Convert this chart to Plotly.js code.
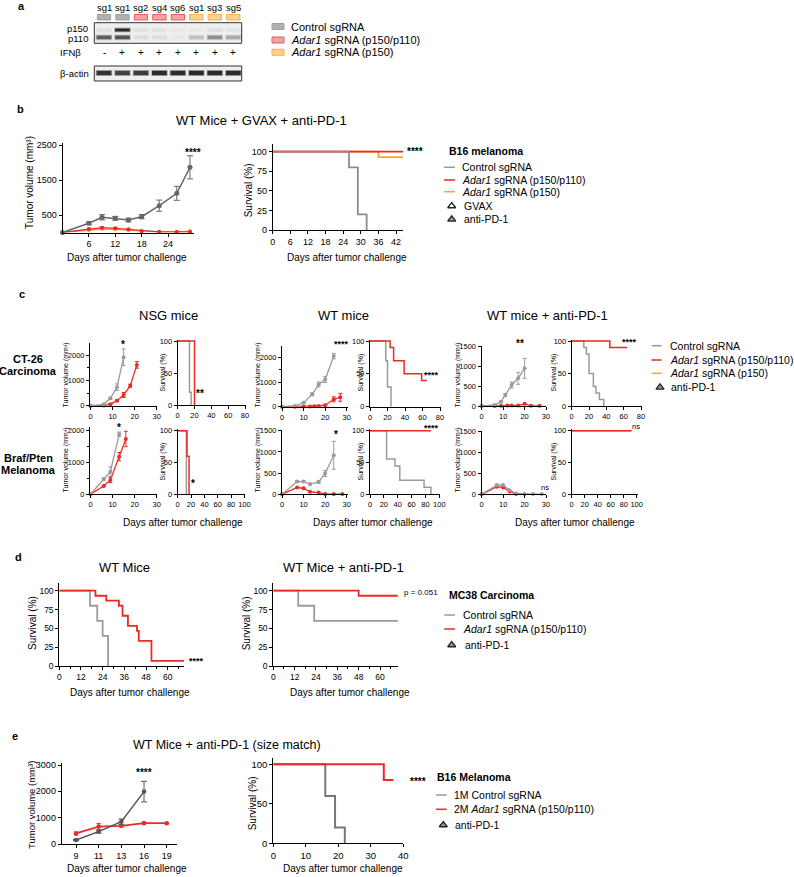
<!DOCTYPE html>
<html><head><meta charset="utf-8">
<script src="https://cdn.plot.ly/plotly-3.0.1.min.js"></script>
<style>html,body{margin:0;padding:0;background:#fff}#chart{width:794px;height:877px}</style>
</head><body><div id="chart"></div>
<script>
// ================= DATA =================
// panel a (western blot, relative band intensities)
const laneLabels = ['sg1','sg1','sg2','sg4','sg6','sg1','sg3','sg5'];
const laneGroup  = [0,0,1,1,1,2,2,2];
const ifnbSigns  = ['-','+','+','+','+','+','+','+'];
const p150Band   = [0.06,0.95,0.05,0.05,0.03,0.03,0.06,0.04];
const p110Band   = [0.65,0.7,0.07,0.07,0.03,0.18,0.4,0.28];
const actinBand  = [0.9,0.8,0.85,0.95,0.95,0.95,0.95,0.95];
const groupNames = ['Control sgRNA','<i>Adar1</i> sgRNA (p150/p110)','<i>Adar1</i> sgRNA (p150)'];

// panel b
const bDays      = [0,6,9,12,15,18,22,26,29];
const bCtrl      = [0,263,434,405,357,452,766,1120,1862];
const bCtrlErr   = [0,40,75,55,55,60,160,200,330];
const bDual      = [0,100,137,120,90,40,20,15,15];
const bDualErr   = [0,20,25,25,20,15,10,10,10];
const bP150      = [0,70,100,90,70,30,20,20,40];
const bGvaxDays  = [1,4];
const bPd1Days   = [6,9,12];
const bSurvCtrlT = [0,26,29,32],   bSurvCtrlS = [100,80,20,0];
const bSurvDualT = [0,45],         bSurvDualS = [100,100];
const bSurvP150T = [0,36,45],      bSurvP150S = [100,93,93];

// panel c — NSG
const cNctCtrlD = [0,6,9,12,15],        cNctCtrl = [0,55,290,730,1910],   cNctCtrlE = [0,15,40,130,330];
const cNctDualD = [0,6,9,12,15,18,21],  cNctDual = [0,5,60,200,423,790,1610], cNctDualE = [0,5,20,40,100,60,130];
const cNctSCtrlT = [0,14,16], cNctSCtrlS = [100,20,0];
const cNctSDualT = [0,20],    cNctSDualS = [100,0];
const cNbpCtrlD = [0,6,9,13],           cNbpCtrl = [0,476,703,1866],      cNbpCtrlE = [0,30,150,70];
const cNbpDualD = [0,6,9,13,16],        cNbpDual = [0,258,445,1170,1720], cNbpDualE = [0,20,80,130,240];
const cNbpSCtrlT = [0,13],    cNbpSCtrlS = [100,0];
const cNbpSDualT = [0,14,17], cNbpSDualS = [100,60,0];
// panel c — WT
const cWctCtrlD = [0,6,10,14,17,20,24],      cWctCtrl = [0,30,160,500,900,1100,2050], cWctCtrlE = [0,10,30,60,100,120,110];
const cWctDualD = [0,6,10,13,15,17,20,24,27],cWctDual = [0,0,5,10,15,30,60,300,380],  cWctDualE = [0,0,0,5,5,10,20,100,160];
const cWctSCtrlT = [0,18,20,24],          cWctSCtrlS = [100,70,30,0];
const cWctSDualT = [0,23,27,39,59,65],    cWctSDualS = [100,90,70,50,40,40];
const cWbpCtrlD = [0,7,10,13,17,20,24],      cWbpCtrl = [0,300,300,240,290,490,920], cWbpCtrlE = [0,20,20,20,30,70,330];
const cWbpDualD = [0,7,10,13,17,20,24,28],   cWbpDual = [0,160,140,60,40,10,5,5];
const cWbpSCtrlT = [0,24,36,43,78,88],    cWbpSCtrlS = [100,55.6,44.4,22.2,11.1,0];
const cWbpSDualT = [0,88],                cWbpSDualS = [100,100];
// panel c — WT + anti-PD-1
const cActCtrlD = [0,6,9,11,14,17,20],       cActCtrl = [0,25,108,275,525,692,942], cActCtrlE = [0,10,20,40,75,150,250];
const cActDualD = [0,6,9,12,14,17,20,23,27], cActDual = [0,2,5,10,10,15,55,5,5];
const cActPd1 = [6,9,12];
const cActSCtrlT = [0,14,17,20,25,28,32,37], cActSCtrlS = [100,90,80,50,30,20,10,0];
const cActSDualT = [0,44,64],                cActSDualS = [100,90,90];
const cAbpCtrlD = [0,7,10,13,16,20,24,28],   cAbpCtrl = [0,220,225,100,20,5,5,5];
const cAbpDualD = [0,7,10,13,16],            cAbpDual = [0,180,165,70,10];
const cAbpPd1 = [7,10,13];
const cAbpSCtrlT = [0,92], cAbpSCtrlS = [100,100];
const cAbpSDualT = [0,92], cAbpSDualS = [100,100];

// panel d
const dWtCtrlT = [0,17,21,24,27],                 dWtCtrlS = [100,80,60,40,0];
const dWtDualT = [0,20,26,33,35,38,43,44,51,69],  dWtDualS = [100,93.3,86.7,80,66.7,53.3,46.7,33.3,6.7,6.7];
const dPdCtrlT = [0,14,23,70],                    dPdCtrlS = [100,80,60,60];
const dPdDualT = [0,48,70],                       dPdDualS = [100,93.3,93.3];
const dPd1Days = [9];

// panel e
const eDays     = [9,11,13,16,19];
const eCtrl     = [150,470,850,1990];
const eCtrlErr  = [20,60,100,390];
const eDual     = [400,660,690,790,790];
const eDualErr  = [60,120,50,50,30];
const ePd1Idx   = [0,1.5];
const eSurvCtrlT = [0,16,19,22], eSurvCtrlS = [100,60,20,0];
const eSurvDualT = [0,34,37],    eSurvDualS = [100,80,80];
const ePd1Days  = [8,13];

// ================= BUILD =================
const W = 794, H = 877;
const FONT = 'Liberation Sans, Arial, Helvetica, sans-serif';
const GRAY = '#9b9b9b', DGRAY = '#666666', RED = '#ec2a24', ORANGE = '#f6a33a';
const traces = [], ann = [], shapes = [];
const layout = {width:W, height:H, margin:{l:0,r:0,t:0,b:0}, paper_bgcolor:'#fff',
  plot_bgcolor:'rgba(0,0,0,0)', showlegend:false, font:{family:FONT, color:'#000'},
  annotations:ann, shapes:shapes, hovermode:false};

function frame(p){
  const [[xv0,xp0],[xv1,xp1]] = p.xcal, sx = (xv1-xv0)/(xp1-xp0);
  const [[yv0,yp0],[yv1,yp1]] = p.ycal, sy = (yv1-yv0)/(yp1-yp0);
  p.xr = [xv0+(p.x[0]-xp0)*sx, xv0+(p.x[1]-xp0)*sx];
  p.yr = [yv0+(p.y[1]-yp0)*sy, yv0+(p.y[0]-yp0)*sy];
  p.yAt = py => yv0+(py-yp0)*sy;
  p.xPx = v => xp0+(v-xv0)/sx;
  return {xd:[p.x[0]/W, p.x[1]/W], yd:[1-p.y[1]/H, 1-p.y[0]/H]};
}
function axStyle(fs){ return {showgrid:false, zeroline:false, showline:true, linecolor:'#000', linewidth:1,
  ticks:'outside', ticklen:3, tickwidth:1, tickcolor:'#000', tickfont:{size:fs||8, family:FONT, color:'#000'},
  fixedrange:true, tickmode:'array'}; }
let nid = 1;
function setup(p, xo, yo, fs){
  const f = frame(p); const n = nid===1 ? '' : String(nid); nid++;
  p.xa = 'x'+n; p.ya = 'y'+n;
  layout['xaxis'+n] = Object.assign(axStyle(fs), {domain:f.xd, range:p.xr, anchor:p.ya}, xo);
  layout['yaxis'+n] = Object.assign(axStyle(fs), {domain:f.yd, range:p.yr, anchor:p.xa}, yo);
  return p;
}
function tumor(p, xs, ys, err, color, o){
  o = o||{};
  traces.push({type:'scatter', mode:'lines+markers', x:xs, y:ys, xaxis:p.xa, yaxis:p.ya, cliponaxis:false,
    line:{color:color, width:o.lw||1.3}, marker:{color:color, size:o.ms||4},
    error_y: err ? {type:'data', array:err, visible:true, color:color, thickness:1, width:o.cap||2} : {visible:false}});
}
function surv(p, ts, ss, color, w){
  traces.push({type:'scatter', mode:'lines', x:ts, y:ss, xaxis:p.xa, yaxis:p.ya,
    line:{color:color, width:w||1.5, shape:'hv'}});
}
function tri(p, xs, py, fill, size){
  traces.push({type:'scatter', mode:'markers', x:xs, y:xs.map(()=>p.yAt(py)), xaxis:p.xa, yaxis:p.ya, cliponaxis:false,
    marker:{symbol:'triangle-up', size:size||7, color:fill, line:{color:'#222', width:1.3}}});
}
function T(text, px, py, o){
  o = o||{};
  ann.push({text:text, x:px/W, y:1-py/H, xref:'paper', yref:'paper', showarrow:false,
    xanchor:o.xa||'center', yanchor:'middle', textangle:o.rot||0,
    font:{family:FONT, size:o.size||10, color:o.color||'#000', weight:o.bold?'bold':'normal'}});
}
function hline(x0,x1,y,color,w){ shapes.push({type:'line', xref:'paper', yref:'paper', x0:x0/W, x1:x1/W, y0:1-y/H, y1:1-y/H, line:{color:color, width:w||1.5}}); }
function rectPx(x0,y0,x1,y1,fill,lc,lw){ shapes.push({type:'rect', xref:'paper', yref:'paper', x0:x0/W, x1:x1/W, y0:1-y1/H, y1:1-y0/H, fillcolor:fill, line:{color:lc||fill, width:lw||0}}); }

// ---------- panel a ----------
const blotTop = setup({x:[94.3,241.7], y:[22.7,43.3], xcal:[[0,104],[7,233.3]], ycal:[[0,43.3],[1,22.7]]}, {visible:false}, {visible:false});
const blotAct = setup({x:[94.3,241.7], y:[66,81],     xcal:[[0,104],[7,233.3]], ycal:[[0,81],[1,66]]},      {visible:false}, {visible:false});
rectPx(94.3,22.7,241.7,43.3,'#efefef','#333',1);
rectPx(94.3,66,241.7,81,'#efefef','#333',1);
const grpFill = ['#b0b0b0','#f4a3a3','#fdd290'], grpLine = ['#a0a0a0','#ea5a5a','#f6b04e'];
laneLabels.forEach((lab,i)=>{
  const lx = blotTop.xPx(i);
  T(lab, lx, 7, {size:9.5});
  T(ifnbSigns[i], lx, 52.5, {size:10});
  shapes.push({type:'rect', xref:blotTop.xa, yref:'paper', x0:i-0.36, x1:i+0.36, y0:1-20/H, y1:1-14.5/H,
    fillcolor:grpFill[laneGroup[i]], line:{color:grpLine[laneGroup[i]], width:1}});
  const band = (p, a, y0, y1) => {
    shapes.push({type:'rect', xref:p.xa, yref:p.ya, x0:i-0.45, x1:i+0.45, y0:y0-0.05, y1:y1+0.05, fillcolor:'rgba(30,30,30,'+(a*0.3)+')', line:{width:0}});
    shapes.push({type:'rect', xref:p.xa, yref:p.ya, x0:i-0.4, x1:i+0.4, y0:y0, y1:y1, fillcolor:'rgba(20,20,20,'+(a*0.9)+')', line:{width:0}});
  };
  band(blotTop, p150Band[i], 0.57, 0.72);
  band(blotTop, p110Band[i], 0.2, 0.38);
  band(blotAct, actinBand[i], 0.38, 0.68);
});
T('p150', 90, 28.3, {xa:'right', size:9.5});
T('p110', 90, 38.5, {xa:'right', size:9.5});
T('IFNβ', 83, 52.5, {xa:'right', size:9.5});
T('β-actin', 91, 73, {xa:'right', size:9.5});
[26.5, 40, 52.3].forEach((y,k)=>{
  rectPx(272,y-3,284,y+3,grpFill[k],grpLine[k],1);
  T(groupNames[k], 289, y, {xa:'left', size:11});
});

// ---------- panel b ----------
const b1 = setup({x:[62.5,194], y:[143,232.5], xcal:[[0,62.5],[24,168]], ycal:[[0,232.5],[2500,145]]},
  {tickvals:[6,12,18,24]}, {tickvals:[500,1500,2500]}, 9);
tumor(b1, bDays, bP150, null, ORANGE, {ms:4});
tumor(b1, bDays, bDual, bDualErr, RED, {ms:4});
tumor(b1, bDays, bCtrl, bCtrlErr, DGRAY, {ms:5, lw:1.5, cap:3});
tri(b1, bGvaxDays, 247, '#ffffff', 8);
tri(b1, bPd1Days, 247, '#9a9a9a', 8);
const b2 = setup({x:[272.7,403], y:[144,230], xcal:[[0,272.7],[42,396]], ycal:[[0,230],[100,151.7]]},
  {tickvals:[0,6,12,18,24,30,36,42]}, {tickvals:[0,25,50,75,100]}, 9);
surv(b2, bSurvP150T, bSurvP150S, ORANGE, 1.8);
surv(b2, bSurvDualT, bSurvDualS, RED, 1.8);
surv(b2, bSurvCtrlT, bSurvCtrlS, '#8c8c8c', 1.8);
tri(b2, bGvaxDays, 245, '#ffffff', 7);
tri(b2, bPd1Days, 245, '#9a9a9a', 7);
T('WT Mice + GVAX + anti-PD-1', 261, 120, {size:13});
T('****', 193, 152, {size:10, bold:true});
T('****', 415, 151.5, {size:10, bold:true});
T('Tumor volume (mm³)', 30, 183, {rot:-90, size:10});
T('Survival (%)', 248.3, 190, {rot:-90, size:10});
T('Days after tumor challenge', 127, 258, {size:10});
T('Days after tumor challenge', 347, 258, {size:10});
T('B16 melanoma', 446.7, 150.7, {xa:'left', size:10.5, bold:true});
hline(444,455,167.3,'#999'); hline(444,455,180,RED); hline(444,455,191.7,ORANGE);
T('Control sgRNA', 460, 167.3, {xa:'left', size:10.5});
T('<i>Adar1</i> sgRNA (p150/p110)', 460, 180, {xa:'left', size:10.5});
T('<i>Adar1</i> sgRNA (p150)', 460, 191.7, {xa:'left', size:10.5});
T('GVAX', 461.7, 206, {xa:'left', size:10.5});
T('anti-PD-1', 461.7, 219.3, {xa:'left', size:10.5});

// ---------- panel c ----------
const fsC = 7.5;
const mC = {ticks:'outside', ticklen:2, tickcolor:'#000'};
const cNt1 = setup({x:[90,157], y:[342.7,405.7], xcal:[[0,90.5],[30,156.7]], ycal:[[0,405.7],[2000,355]]},
  {tickvals:[0,10,20,30]}, {tickvals:[0,1000,2000], minor:Object.assign({tickvals:[500,1500]},mC)}, fsC);
tumor(cNt1, cNctDualD, cNctDual, cNctDualE, RED);
tumor(cNt1, cNctCtrlD, cNctCtrl, cNctCtrlE, GRAY);
const cNs1 = setup({x:[177.7,245.5], y:[339.5,405], xcal:[[0,177.7],[80,245]], ycal:[[0,405],[100,341]]},
  {tickvals:[0,20,40,60,80]}, {tickvals:[0,50,100]}, fsC);
surv(cNs1, cNctSCtrlT, cNctSCtrlS, GRAY, 1.5);
surv(cNs1, cNctSDualT, cNctSDualS, RED, 1.5);
const cNt2 = setup({x:[90,157], y:[426.7,494.3], xcal:[[0,90.5],[30,156.7]], ycal:[[0,494.3],[2000,430]]},
  {tickvals:[0,10,20,30]}, {tickvals:[0,1000,2000], minor:Object.assign({tickvals:[500,1500]},mC)}, fsC);
tumor(cNt2, cNbpDualD, cNbpDual, cNbpDualE, RED);
tumor(cNt2, cNbpCtrlD, cNbpCtrl, cNbpCtrlE, GRAY);
const cNs2 = setup({x:[177.7,244.5], y:[429.3,494.3], xcal:[[0,177.7],[100,244.4]], ycal:[[0,494.3],[100,430.7]]},
  {tickvals:[0,20,40,60,80,100]}, {tickvals:[0,50,100]}, fsC);
surv(cNs2, cNbpSCtrlT, cNbpSCtrlS, GRAY, 1.5);
surv(cNs2, cNbpSDualT, cNbpSDualS, RED, 1.5);

const cWt1 = setup({x:[282,348], y:[345.7,406.7], xcal:[[0,282],[30,346.7]], ycal:[[0,406.7],[2000,357.3]]},
  {tickvals:[0,10,20,30]}, {tickvals:[0,1000,2000], minor:Object.assign({tickvals:[500,1500]},mC)}, fsC);
tumor(cWt1, cWctDualD, cWctDual, cWctDualE, RED);
tumor(cWt1, cWctCtrlD, cWctCtrl, cWctCtrlE, GRAY);
const cWs1 = setup({x:[370,441], y:[339.5,406.7], xcal:[[0,370],[80,440]], ycal:[[0,406.7],[100,341]]},
  {tickvals:[0,20,40,60,80]}, {tickvals:[0,50,100]}, fsC);
surv(cWs1, cWctSCtrlT, cWctSCtrlS, GRAY, 1.5);
surv(cWs1, cWctSDualT, cWctSDualS, RED, 1.5);
const cWt2 = setup({x:[282,348], y:[430,494.3], xcal:[[0,282],[30,346.7]], ycal:[[0,494.3],[1500,430.7]]},
  {tickvals:[0,10,20,30]}, {tickvals:[0,500,1000,1500]}, fsC);
tumor(cWt2, cWbpDualD, cWbpDual, null, RED);
tumor(cWt2, cWbpCtrlD, cWbpCtrl, cWbpCtrlE, GRAY);
const cWs2 = setup({x:[370,440], y:[429.3,494.3], xcal:[[0,370],[100,439.3]], ycal:[[0,494.3],[100,430.7]]},
  {tickvals:[0,20,40,60,80,100]}, {tickvals:[0,50,100]}, fsC);
surv(cWs2, cWbpSCtrlT, cWbpSCtrlS, GRAY, 1.5);
surv(cWs2, cWbpSDualT, cWbpSDualS, RED, 1.5);

const cAt1 = setup({x:[481.5,546], y:[345.7,406], xcal:[[0,481.7],[30,546]], ycal:[[0,406],[1500,346]]},
  {tickvals:[0,10,20,30]}, {tickvals:[0,500,1000,1500]}, fsC);
tumor(cAt1, cActDualD, cActDual, null, RED);
tumor(cAt1, cActCtrlD, cActCtrl, cActCtrlE, GRAY);
tri(cAt1, cActPd1, 420, '#9a9a9a', 6);
const cAs1 = setup({x:[571.7,642], y:[339.5,406], xcal:[[0,571.7],[80,641]], ycal:[[0,406],[100,341]]},
  {tickvals:[0,20,40,60,80]}, {tickvals:[0,50,100]}, fsC);
surv(cAs1, cActSCtrlT, cActSCtrlS, GRAY, 1.5);
surv(cAs1, cActSDualT, cActSDualS, RED, 1.5);
const cAt2 = setup({x:[481.5,546], y:[430.5,494.3], xcal:[[0,481.7],[30,546]], ycal:[[0,494.3],[1500,431.7]]},
  {tickvals:[0,10,20,30]}, {tickvals:[0,500,1000,1500]}, fsC);
tumor(cAt2, cAbpDualD, cAbpDual, null, RED);
tumor(cAt2, cAbpCtrlD, cAbpCtrl, null, GRAY);
tri(cAt2, cAbpPd1, 508, '#9a9a9a', 6);
const cAs2 = setup({x:[571.7,637.5], y:[429.3,494.3], xcal:[[0,571.7],[100,636.7]], ycal:[[0,494.3],[100,430.7]]},
  {tickvals:[0,20,40,60,80,100]}, {tickvals:[0,50,100]}, fsC);
surv(cAs2, cAbpSCtrlT, cAbpSCtrlS, GRAY, 1.5);
surv(cAs2, cAbpSDualT, cAbpSDualS, RED, 1.5);

T('NSG mice', 168, 315, {size:13});
T('WT mice', 343, 315, {size:13});
T('WT mice + anti-PD-1', 547.5, 315, {size:13});
T('CT-26', 28, 359, {size:11, bold:true});
T('Carcinoma', 28, 371, {size:11, bold:true});
T('Braf/Pten', 28, 458, {size:11, bold:true});
T('Melanoma', 28, 470, {size:11, bold:true});
[[65.5,375],[65.5,460],[257.5,375],[257.5,460],[457.5,375],[457.5,460]].forEach(([x,y])=>T('Tumor volume (mm³)', x, y, {rot:-90, size:7}));
[[162.5,373],[162.5,462],[360.5,373],[360.5,462],[553.5,373],[553.5,462]].forEach(([x,y])=>T('Survival (%)', x, y, {rot:-90, size:7}));
T('Days after tumor challenge', 183, 522.3, {size:10});
T('Days after tumor challenge', 373.3, 522.3, {size:10});
T('Days after tumor challenge', 575, 522.3, {size:10});
T('*', 123.3, 344, {size:10, bold:true});
T('**', 200, 393, {size:10, bold:true});
T('*', 119.3, 427, {size:10, bold:true});
T('*', 192.7, 483, {size:10, bold:true});
T('****', 341.7, 343.5, {size:9, bold:true});
T('****', 431.7, 375, {size:9, bold:true});
T('*', 336, 434.5, {size:10, bold:true});
T('****', 431.7, 427.5, {size:9, bold:true});
T('**', 520, 343.5, {size:10, bold:true});
T('****', 629, 342, {size:9, bold:true});
T('ns', 545, 487.3, {size:7.5});
T('ns', 636, 426.7, {size:7.5});
hline(651.7,661.7,345.7,'#999'); hline(651.7,661.7,360,RED); hline(651.7,661.7,373.3,ORANGE);
T('Control sgRNA', 668.3, 345.7, {xa:'left', size:10.5});
T('<i>Adar1</i> sgRNA (p150/p110)', 668.3, 360, {xa:'left', size:10.5});
T('<i>Adar1</i> sgRNA (p150)', 668.3, 373.3, {xa:'left', size:10.5});
T('anti-PD-1', 669.3, 387.3, {xa:'left', size:10.5});

// ---------- panel d ----------
const d1 = setup({x:[59.3,184.3], y:[582.7,666], xcal:[[0,59.3],[60,167.7]], ycal:[[0,666],[100,590.7]]},
  {tickvals:[0,12,24,36,48,60], minor:Object.assign({tickvals:[6,18,30,42,54,66]},mC)}, {tickvals:[0,25,50,75,100]}, 8.5);
surv(d1, dWtCtrlT, dWtCtrlS, GRAY, 1.8);
surv(d1, dWtDualT, dWtDualS, RED, 1.8);
const d2 = setup({x:[273.3,398.3], y:[582.7,666], xcal:[[0,273.3],[60,380]], ycal:[[0,666],[100,590.7]]},
  {tickvals:[0,12,24,36,48,60], minor:Object.assign({tickvals:[6,18,30,42,54,66]},mC)}, {tickvals:[0,25,50,75,100]}, 8.5);
surv(d2, dPdCtrlT, dPdCtrlS, GRAY, 1.8);
surv(d2, dPdDualT, dPdDualS, RED, 1.8);
tri(d2, dPd1Days, 682.7, '#9a9a9a', 7);
T('WT Mice', 125, 567, {size:13});
T('WT Mice + anti-PD-1', 343.3, 567, {size:13});
T('Survival (%)', 32.7, 623.3, {rot:-90, size:10});
T('Survival (%)', 246, 623.3, {rot:-90, size:10});
T('Days after tumor challenge', 130, 692.7, {size:10});
T('Days after tumor challenge', 350, 692.7, {size:10});
T('****', 196.7, 661, {size:9, bold:true});
T('p = 0.051', 401.7, 592.5, {xa:'left', size:8});
T('MC38 Carcinoma', 446.7, 595, {xa:'left', size:10.5, bold:true});
hline(444.3,455,615,'#999'); hline(444.3,455,629,RED);
T('Control sgRNA', 460.7, 615, {xa:'left', size:10.5});
T('<i>Adar1</i> sgRNA (p150/p110)', 460.7, 629, {xa:'left', size:10.5});
T('anti-PD-1', 462.7, 645, {xa:'left', size:10.5});

// ---------- panel e ----------
const eIdx = eDays.map((d,i)=>i);
const e1 = setup({x:[61.7,176.7], y:[763,844], xcal:[[0,76],[4,166.7]], ycal:[[0,844],[3000,765]]},
  {tickvals:eIdx, ticktext:eDays.map(String)}, {tickvals:[0,1000,2000,3000]}, 9);
tumor(e1, eIdx, eDual, eDualErr, RED, {ms:4.5, lw:1.8});
tumor(e1, eIdx.slice(0,eCtrl.length), eCtrl, eCtrlErr, '#555', {ms:4.5, lw:1.5, cap:3});
tri(e1, ePd1Idx, 860, '#9a9a9a', 6);
const e2 = setup({x:[273.3,403.3], y:[757.7,843.3], xcal:[[0,273.3],[40,403.3]], ycal:[[0,843.3],[100,764.3]]},
  {tickvals:[0,10,20,30,40]}, {tickvals:[0,50,100]}, 9.5);
surv(e2, eSurvCtrlT, eSurvCtrlS, '#777', 2);
surv(e2, eSurvDualT, eSurvDualS, RED, 2);
tri(e2, ePd1Days, 859.3, '#9a9a9a', 6);
T('WT Mice + anti-PD-1 (size match)', 226.7, 745, {size:12.5});
T('Tumor volume (mm³)', 31, 805, {rot:-90, size:9.5});
T('Survival (%)', 252.3, 803, {rot:-90, size:10});
T('Days after tumor challenge', 126.7, 868.3, {size:10});
T('Days after tumor challenge', 343.3, 868.3, {size:10});
T('****', 144, 772.5, {size:10, bold:true});
T('****', 408.3, 781.5, {size:10, bold:true, xa:'left'});
T('B16 Melanoma', 435, 776.7, {xa:'left', size:10.5, bold:true});
hline(436,446.7,795,'#999'); hline(436,446.7,809.3,RED);
T('1M Control sgRNA', 451.7, 795, {xa:'left', size:10.5});
T('2M <i>Adar1</i> sgRNA (p150/p110)', 451.7, 809.3, {xa:'left', size:10.5});
T('anti-PD-1', 453.3, 825, {xa:'left', size:10.5});

// panel letters
T('a', 21.7, 6, {size:11, bold:true});
T('b', 20, 109, {size:11, bold:true});
T('c', 21.7, 294, {size:11, bold:true});
T('d', 18.3, 556.7, {size:11, bold:true});
T('e', 15, 736, {size:11, bold:true});

// ---------- overlay (legend glyphs, pixel frame) ----------
const ov = setup({x:[0,794], y:[0,877], xcal:[[0,0],[794,794]], ycal:[[0,0],[877,877]]}, {visible:false}, {visible:false});
const legTriX = [451.7, 451.7, 660, 451.7, 443.3];
const legTriY = [206, 219.3, 387.3, 645, 825];
const legTriFill = ['#ffffff','#9a9a9a','#9a9a9a','#9a9a9a','#9a9a9a'];
traces.push({type:'scatter', mode:'markers', x:legTriX, y:legTriY, xaxis:ov.xa, yaxis:ov.ya, cliponaxis:false,
  marker:{symbol:'triangle-up', size:7, color:legTriFill, line:{color:'#222', width:1.3}}});

Plotly.newPlot('chart', traces, layout, {staticPlot:true, displayModeBar:false});
</script></body></html>
